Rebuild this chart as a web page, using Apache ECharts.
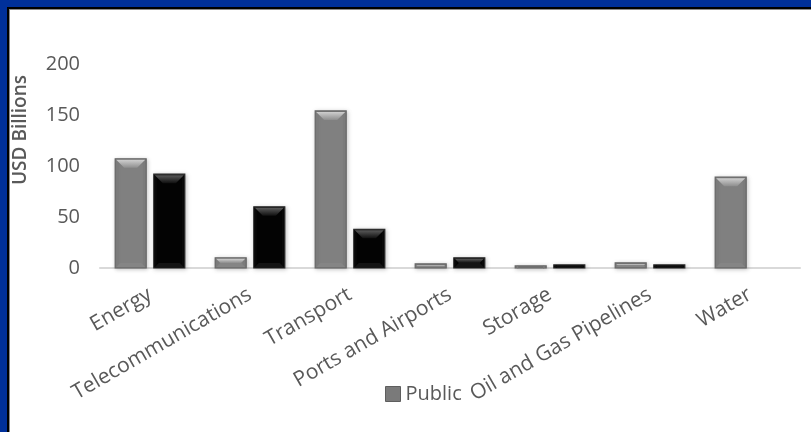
<!DOCTYPE html>
<html>
<head>
<meta charset="utf-8">
<script src="https://cdn.jsdelivr.net/npm/echarts@6/dist/echarts.min.js"></script>
<style>
  html, body { margin: 0; padding: 0; background: #ffffff; }
  #chart { width: 811px; height: 432px; }
</style>
</head>
<body>
<div id="chart"></div>
<script>
// Infrastructure investment by sector, USD billions
const categories = ['Energy', 'Telecommunications', 'Transport', 'Ports and Airports', 'Storage', 'Oil and Gas Pipelines', 'Water'];
const publicValues = [107, 10, 154, 4, 2, 5, 89];
const privateValues = [92, 60, 38, 10, 3, 3, 0];
const yTicks = { min: 0, max: 200, interval: 50 };

const palettes = {
  public:  { face: '#808080', edge: '#666666', top: ['#cfcfcf', '#8e8e8e'], side: '#7b7b7b', bottom: '#858585' },
  private: { face: '#030303', edge: '#2a2a2a', top: ['#5a5a5a', '#101010'], side: '#080808', bottom: '#141414' }
};

// Bevelled bar drawn from the value/category scales
function bevelBar(side, pal) {
  return function (params, api) {
    const cat = api.value(0);
    const val = api.value(1);
    if (!val) return null;
    const base = api.coord([cat, 0]);
    const top = api.coord([cat, val]);
    const band = api.size([1, 0])[0];
    const w = band * 0.31;
    const gap = band * 0.076;
    const cx = base[0] + side * (w / 2 + gap / 2);
    const x0 = cx - w / 2, x1 = cx + w / 2;
    const y0 = top[1], y1 = base[1];
    const h = y1 - y0;
    const b = Math.min(9, h / 2, w / 2);
    const bb = Math.min(5, h / 2);
    return {
      type: 'group',
      children: [
        { type: 'rect', shape: { x: x0, y: y0, width: w, height: h },
          style: { fill: pal.face, stroke: pal.edge, lineWidth: 1.2, shadowBlur: 4, shadowColor: 'rgba(0,0,0,0.22)', shadowOffsetX: 1, shadowOffsetY: 1 } },
        { type: 'polygon', shape: { points: [[x0 + 1, y0 + 1], [x0 + 3, y0 + 3], [x0 + 3, y1 - 3], [x0 + 1, y1 - 1]] },
          style: { fill: pal.side } },
        { type: 'polygon', shape: { points: [[x1 - 1, y0 + 1], [x1 - 3, y0 + 3], [x1 - 3, y1 - 3], [x1 - 1, y1 - 1]] },
          style: { fill: pal.side } },
        { type: 'polygon', shape: { points: [[x0 + 1, y1 - 1], [x1 - 1, y1 - 1], [x1 - bb, y1 - bb], [x0 + bb, y1 - bb]] },
          style: { fill: pal.bottom } },
        { type: 'polygon', shape: { points: [[x0 + 1, y0 + 1], [x1 - 1, y0 + 1], [x1 - b, y0 + b], [x0 + b, y0 + b]] },
          style: { fill: new echarts.graphic.LinearGradient(0, 0, 0, 1, [
            { offset: 0, color: pal.top[0] }, { offset: 1, color: pal.top[1] }]) } }
      ]
    };
  };
}

const textColor = '#595959';
const fontFamily = '"Open Sans", "Noto Sans", sans-serif';

const chart = echarts.init(document.getElementById('chart'), null, { renderer: 'canvas' });
chart.setOption({
  animation: false,
  backgroundColor: '#ffffff',
  textStyle: { fontFamily: fontFamily },
  graphic: [
    { type: 'rect', left: 0, top: 0, shape: { width: 811, height: 7 }, style: { fill: '#00309a' } },
    { type: 'rect', left: 0, top: 0, shape: { width: 7, height: 432 }, style: { fill: '#00309a' } },
    { type: 'rect', left: 7, top: 7, shape: { width: 804, height: 2 }, style: { fill: '#000000' } },
    { type: 'rect', left: 7, top: 7, shape: { width: 2, height: 425 }, style: { fill: '#000000' } },
    { type: 'rect', left: 9, top: 9, shape: { width: 802, height: 1 }, style: { fill: '#8a8a8a' } },
    { type: 'rect', left: 9, top: 9, shape: { width: 1, height: 423 }, style: { fill: '#8a8a8a' } },
    // value axis title
    { type: 'text', x: 21, y: 130, rotation: Math.PI / 2,
      style: { text: 'USD Billions', fill: textColor, font: '600 19px "Open Sans", sans-serif', align: 'center', verticalAlign: 'middle' } }
  ],
  grid: { left: 100, right: 11, top: 64, bottom: 164, containLabel: false },
  legend: {
    data: [{ name: 'Public', icon: 'rect', itemStyle: { color: '#7a7a7a', borderColor: '#5e5e5e', borderWidth: 1 } }],
    left: 380, top: 379,
    itemWidth: 15, itemHeight: 15, itemGap: 6,
    textStyle: { color: textColor, fontSize: 20, fontFamily: fontFamily }
  },
  xAxis: {
    type: 'category',
    data: categories,
    axisLine: { show: true, lineStyle: { color: '#d9d9d9', width: 2 } },
    axisTick: { show: false },
    axisLabel: { rotate: 30, margin: 25, color: textColor, fontSize: 21, interval: 0, fontFamily: fontFamily }
  },
  yAxis: {
    type: 'value',
    min: yTicks.min, max: yTicks.max, interval: yTicks.interval,
    axisLine: { show: false },
    axisTick: { show: false },
    splitLine: { show: false },
    axisLabel: { color: textColor, fontSize: 20, margin: 20, fontFamily: fontFamily }
  },
  series: [
    { name: 'Public', type: 'custom', renderItem: bevelBar(-1, palettes.public),
      encode: { x: 0, y: 1 }, data: publicValues.map((v, i) => [i, v]),
      itemStyle: { color: '#7a7a7a' } },
    { name: 'Private', type: 'custom', renderItem: bevelBar(1, palettes.private),
      encode: { x: 0, y: 1 }, data: privateValues.map((v, i) => [i, v]),
      itemStyle: { color: '#030303' } }
  ]
});
</script>
</body>
</html>
